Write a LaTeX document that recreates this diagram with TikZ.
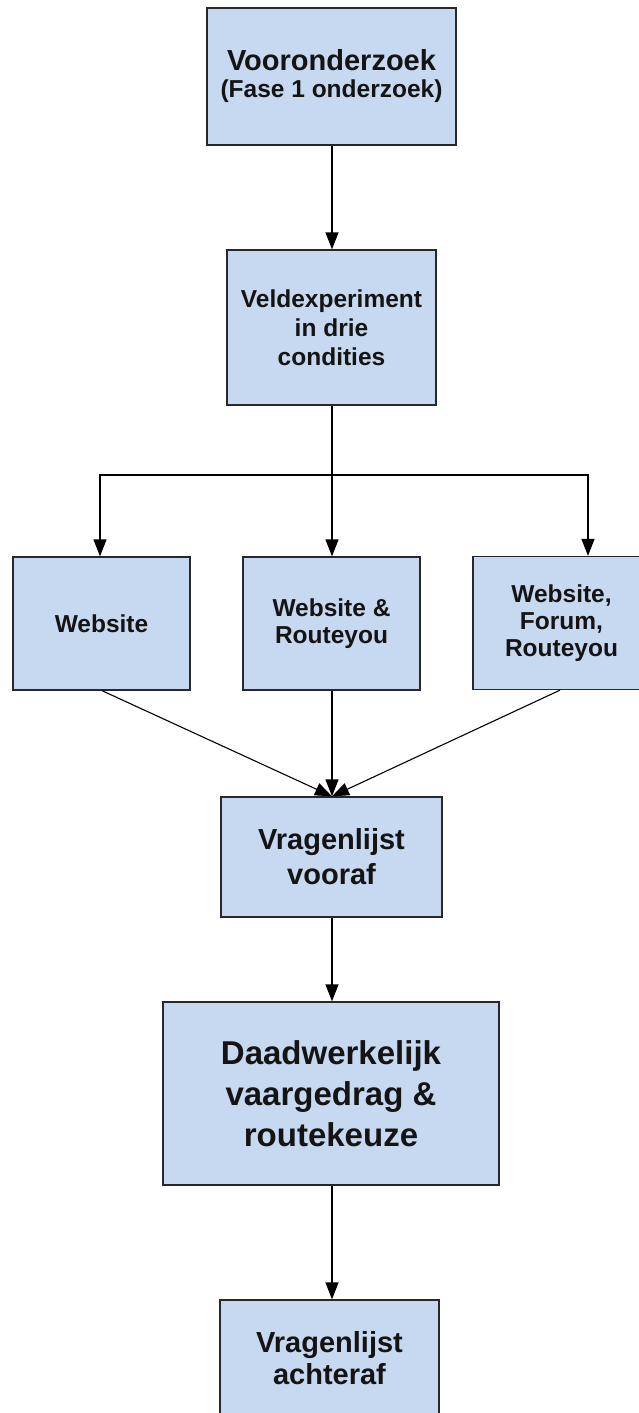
\documentclass[tikz,border=0pt]{standalone}
\usepackage{fontspec}
\setmainfont{Liberation Sans}
\usetikzlibrary{arrows.meta}

\definecolor{boxfill}{RGB}{198,217,240}
\definecolor{boxline}{RGB}{40,40,40}
\definecolor{txt}{RGB}{20,20,20}

\tikzset{
  flowbox/.style={draw=boxline, line width=1.3pt, fill=boxfill, rectangle,
    align=center, text=txt, inner sep=0pt, font=\bfseries},
  smalltxt/.style={font=\bfseries\fontsize{24.5}{27}\selectfont},
  flowarrow/.style={draw=black, line width=1.3pt,
    -{Triangle[length=17pt,width=13pt]}},
  flowline/.style={draw=black, line width=1.3pt}
}

\begin{document}
\begin{tikzpicture}[x=1pt,y=-1pt]
  \useasboundingbox (0,0) rectangle (639,1413);
  \clip (0,0) rectangle (639,1413);

  % top: preliminary research
  \node[flowbox, minimum width=249pt, minimum height=137pt,
        font=\bfseries\fontsize{24.5}{27}\selectfont] (voor) at (331.5,76.5)
    {{\fontsize{29}{27}\selectfont Vooronderzoek}\\(Fase 1 onderzoek)};

  % field experiment
  \node[flowbox, minimum width=209pt, minimum height=155pt,
        font=\bfseries\fontsize{24.5}{29}\selectfont] (veld) at (331.5,327.5)
    {Veldexperiment\\in drie\\condities};

  % three conditions
  \node[flowbox, smalltxt, minimum width=177pt, minimum height=133pt] (web) at (101.5,623.5)
    {Website};
  \node[flowbox, smalltxt, minimum width=177pt, minimum height=133pt] (webroute) at (331.5,623.5)
    {Website \&\\Routeyou};
  \node[flowbox, smalltxt, minimum width=177pt, minimum height=133pt] (webforum) at (561.5,623)
    {Website,\\Forum,\\Routeyou};

  % questionnaire before
  \node[flowbox, minimum width=221pt, minimum height=120pt,
        font=\bfseries\fontsize{29}{35}\selectfont] (vooraf) at (331.5,857)
    {Vragenlijst\\vooraf};

  % actual sailing behaviour
  \node[flowbox, minimum width=336pt, minimum height=183pt,
        font=\bfseries\fontsize{33}{41}\selectfont] (gedrag) at (331,1093.5)
    {Daadwerkelijk\\vaargedrag \&\\routekeuze};

  % questionnaire after
  \node[flowbox, minimum width=219pt, minimum height=116pt,
        font=\bfseries\fontsize{29}{32}\selectfont] (achteraf) at (329.5,1358)
    {Vragenlijst\\achteraf};

  % split point of the three branches
  \coordinate (split) at (332,475);
  \coordinate (intoforum) at ([xshift=26.5pt]webforum.north);
  \coordinate (merge) at ([xshift=0.5pt]vooraf.north);

  \draw[flowarrow] ([xshift=0.5pt]voor.south) -- ([xshift=0.5pt]veld.north);
  \draw[flowarrow] ([xshift=0.5pt]veld.south) -- ([xshift=0.5pt]webroute.north);
  \draw[flowarrow] (split) -| ([xshift=-1.5pt]web.north);
  \draw[flowarrow] (split) -| (intoforum);

  \draw[flowarrow, line width=1.1pt] ([xshift=0.5pt]web.south) -- (merge);
  \draw[flowarrow] ([xshift=0.5pt]webroute.south) -- (merge);
  \draw[flowarrow, line width=1.1pt] ([xshift=-1.5pt]webforum.south) -- (merge);

  \draw[flowarrow] ([xshift=0.5pt]vooraf.south) -- ([xshift=1pt]gedrag.north);
  \draw[flowarrow] ([xshift=1pt]gedrag.south) -- ([xshift=2.5pt]achteraf.north);
\end{tikzpicture}
\end{document}
